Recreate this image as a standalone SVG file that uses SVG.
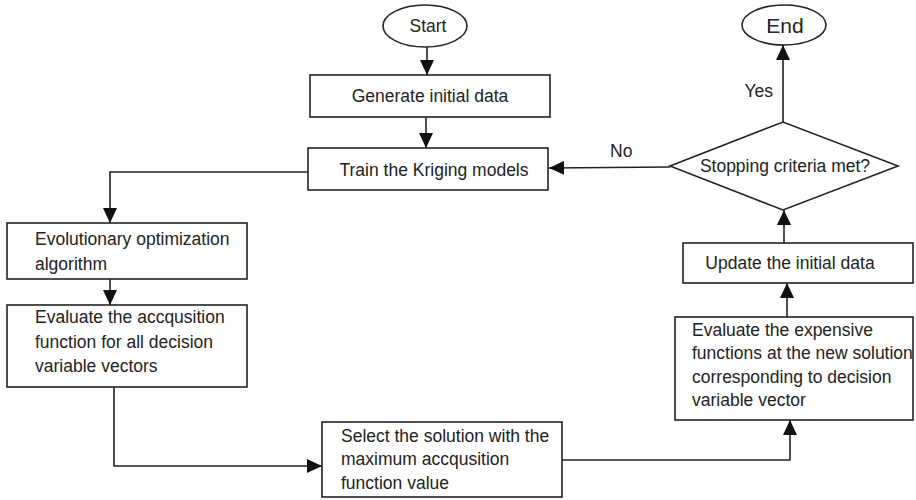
<svg xmlns="http://www.w3.org/2000/svg" width="916" height="500" viewBox="0 0 916 500">
<style>
.box{fill:#fff;stroke:#222;stroke-width:1.6}
.t{font-family:"Liberation Sans",Arial,sans-serif;font-size:17.5px;fill:#222}
.c{text-anchor:middle}
.ln{fill:none;stroke:#222;stroke-width:1.6}
</style>
<defs>
<marker id="ah" markerUnits="userSpaceOnUse" markerWidth="16" markerHeight="14" refX="15" refY="7" orient="auto">
<path d="M0,0 L15,7 L0,14 Z" fill="#111"/>
</marker>
</defs>
<rect width="916" height="500" fill="#fff"/>
<g id="connectors">
<line class="ln" x1="427" y1="47" x2="427" y2="75" marker-end="url(#ah)"/>
<line class="ln" x1="426" y1="117" x2="426" y2="148" marker-end="url(#ah)"/>
<line class="ln" x1="670" y1="167" x2="549" y2="168" marker-end="url(#ah)"/>
<line class="ln" x1="783" y1="122" x2="783" y2="45" marker-end="url(#ah)"/>
<polyline class="ln" points="308,172 110,172 110,223" marker-end="url(#ah)"/>
<line class="ln" x1="110" y1="279" x2="110" y2="305" marker-end="url(#ah)"/>
<polyline class="ln" points="114,387 114,466 322,466" marker-end="url(#ah)"/>
<polyline class="ln" points="562,460 790,460 790,420" marker-end="url(#ah)"/>
<line class="ln" x1="787" y1="317" x2="787" y2="283" marker-end="url(#ah)"/>
<line class="ln" x1="784" y1="243" x2="784" y2="210" marker-end="url(#ah)"/>
<text class="t" x="610" y="157">No</text>
<text class="t" x="773" y="97" text-anchor="end">Yes</text>
</g>
<g id="start">
<ellipse class="box" cx="425" cy="26" rx="42" ry="21"/>
<text class="t c" x="428" y="32">Start</text>
</g>
<g id="generate">
<rect class="box" x="310" y="75" width="240" height="42"/>
<text class="t c" x="430" y="102">Generate initial data</text>
</g>
<g id="train">
<rect class="box" x="308" y="148" width="240" height="42"/>
<text class="t c" x="434" y="176">Train the Kriging models</text>
</g>
<g id="stopping">
<polygon class="box" points="670,166 783,122 898,166 783,210"/>
<text class="t c" x="785" y="172">Stopping criteria met?</text>
</g>
<g id="end">
<ellipse class="box" cx="784" cy="25" rx="42" ry="20"/>
<text class="t c" x="785" y="33" style="font-size:21px">End</text>
</g>
<g id="evolutionary">
<rect class="box" x="7" y="223" width="240" height="56"/>
<text class="t" x="35" y="245">Evolutionary optimization</text>
<text class="t" x="35" y="270">algorithm</text>
</g>
<g id="evaluate-acq">
<rect class="box" x="7" y="305" width="240" height="82"/>
<text class="t" x="35" y="323">Evaluate the accqusition</text>
<text class="t" x="35" y="348">function for all decision</text>
<text class="t" x="35" y="372">variable vectors</text>
</g>
<g id="select">
<rect class="box" x="322" y="422" width="240" height="75"/>
<text class="t" x="341" y="442">Select the solution with the</text>
<text class="t" x="341" y="465">maximum accqusition</text>
<text class="t" x="341" y="489">function value</text>
</g>
<g id="evaluate-exp">
<rect class="box" x="675" y="317" width="238" height="103"/>
<text class="t" x="692" y="336">Evaluate the expensive</text>
<text class="t" x="692" y="359">functions at the new solution</text>
<text class="t" x="692" y="383">corresponding to decision</text>
<text class="t" x="692" y="406">variable vector</text>
</g>
<g id="update">
<rect class="box" x="683" y="243" width="230" height="40"/>
<text class="t c" x="790" y="269">Update the initial data</text>
</g>
</svg>
